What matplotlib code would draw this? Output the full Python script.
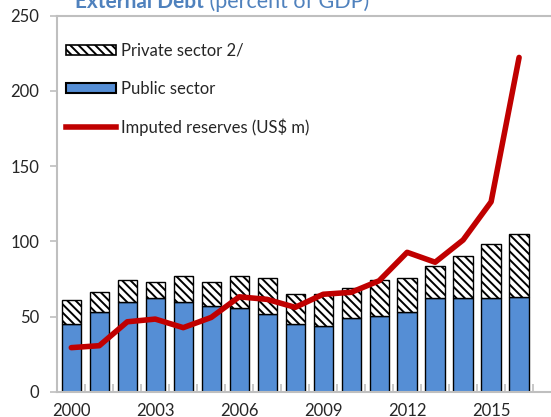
import numpy as np
import matplotlib.pyplot as plt
from matplotlib.patches import Patch
from matplotlib.lines import Line2D

# Datos
years = list(range(2000, 2017))
public = [45.0, 52.8, 59.4, 62.1, 59.4, 57.0, 55.7, 51.6, 45.0, 43.7,
          49.2, 50.3, 52.8, 62.1, 62.1, 62.1, 63.1]
total = [61.1, 66.5, 74.2, 73.1, 77.0, 73.1, 77.0, 75.7, 65.0, 65.0,
         69.2, 74.2, 75.7, 83.6, 90.3, 98.5, 105.1]
reserves = [29.3, 30.6, 46.5, 48.3, 42.6, 49.4, 63.1, 61.4, 56.1, 64.8,
            66.1, 73.8, 92.7, 86.1, 100.9, 126.3, 222.3]
private = [t - p for t, p in zip(total, public)]

plt.rcParams['font.family'] = ['Lato', 'DejaVu Sans']
plt.rcParams['hatch.linewidth'] = 1.4

blue = '#558ED5'
red = '#C00000'
grey = '#BFBFBF'
txt = '#262626'
hatch = '\\' * 4

fig = plt.figure(figsize=(5.51, 4.17), dpi=100)
ax = fig.add_axes([57.3 / 551, 25.3 / 417, (551 - 57.3) / 551, 375.9 / 417])

x = np.arange(len(years))
ax.bar(x, public, width=0.69, color=blue, edgecolor='black', linewidth=1.0, zorder=2)
ax.bar(x, private, width=0.69, bottom=public, color='white', edgecolor='black',
       linewidth=1.0, hatch=hatch, zorder=2)
ax.plot(x, reserves, color=red, linewidth=4, solid_capstyle='round', zorder=3)

ax.set_xlim(-0.5, 17.14)
ax.set_ylim(0, 250)
ax.set_yticks([0, 50, 100, 150, 200, 250])
ax.set_xticks(x[::3])
ax.set_xticklabels([str(y) for y in years[::3]])
ax.set_xticks(np.arange(0.5, 17, 1), minor=True)

for s in ['left', 'bottom', 'top']:
    ax.spines[s].set_color(grey)
    ax.spines[s].set_linewidth(1.5)
ax.spines['right'].set_visible(False)

ax.tick_params(axis='y', colors=grey, length=5, width=1.2, labelcolor=txt,
               labelsize=12, pad=8)
ax.tick_params(axis='x', which='major', length=0, labelcolor=txt, labelsize=12, pad=8)
ax.tick_params(axis='x', which='minor', direction='in', length=6, width=1.2, colors=grey)

handles = [Patch(facecolor='white', edgecolor='black', hatch=hatch, linewidth=1.2),
           Patch(facecolor=blue, edgecolor='black', linewidth=1.5),
           Line2D([0], [0], color=red, linewidth=4)]
labels = ['Private sector 2/', 'Public sector', 'Imputed reserves (US$ m)']
ax.legend(handles, labels, loc='upper left', bbox_to_anchor=(0.0176, 0.928),
          frameon=False, fontsize=12, handlelength=3.0, handleheight=0.6,
          handletextpad=0.3, labelspacing=1.31, labelcolor=txt,
          borderpad=0, borderaxespad=0)

# Título cortado en la parte superior
t1 = fig.text(75 / 551, 1 - 7.5 / 417, 'External Debt', color='#4F81BD',
              fontsize=15, fontweight='bold', va='baseline')
ax.annotate(' (percent of GDP)', xy=(1, 0), xycoords=t1, color='#4F81BD',
            fontsize=15.5, va='bottom', annotation_clip=False)

fig.savefig('out.png', dpi=100)
